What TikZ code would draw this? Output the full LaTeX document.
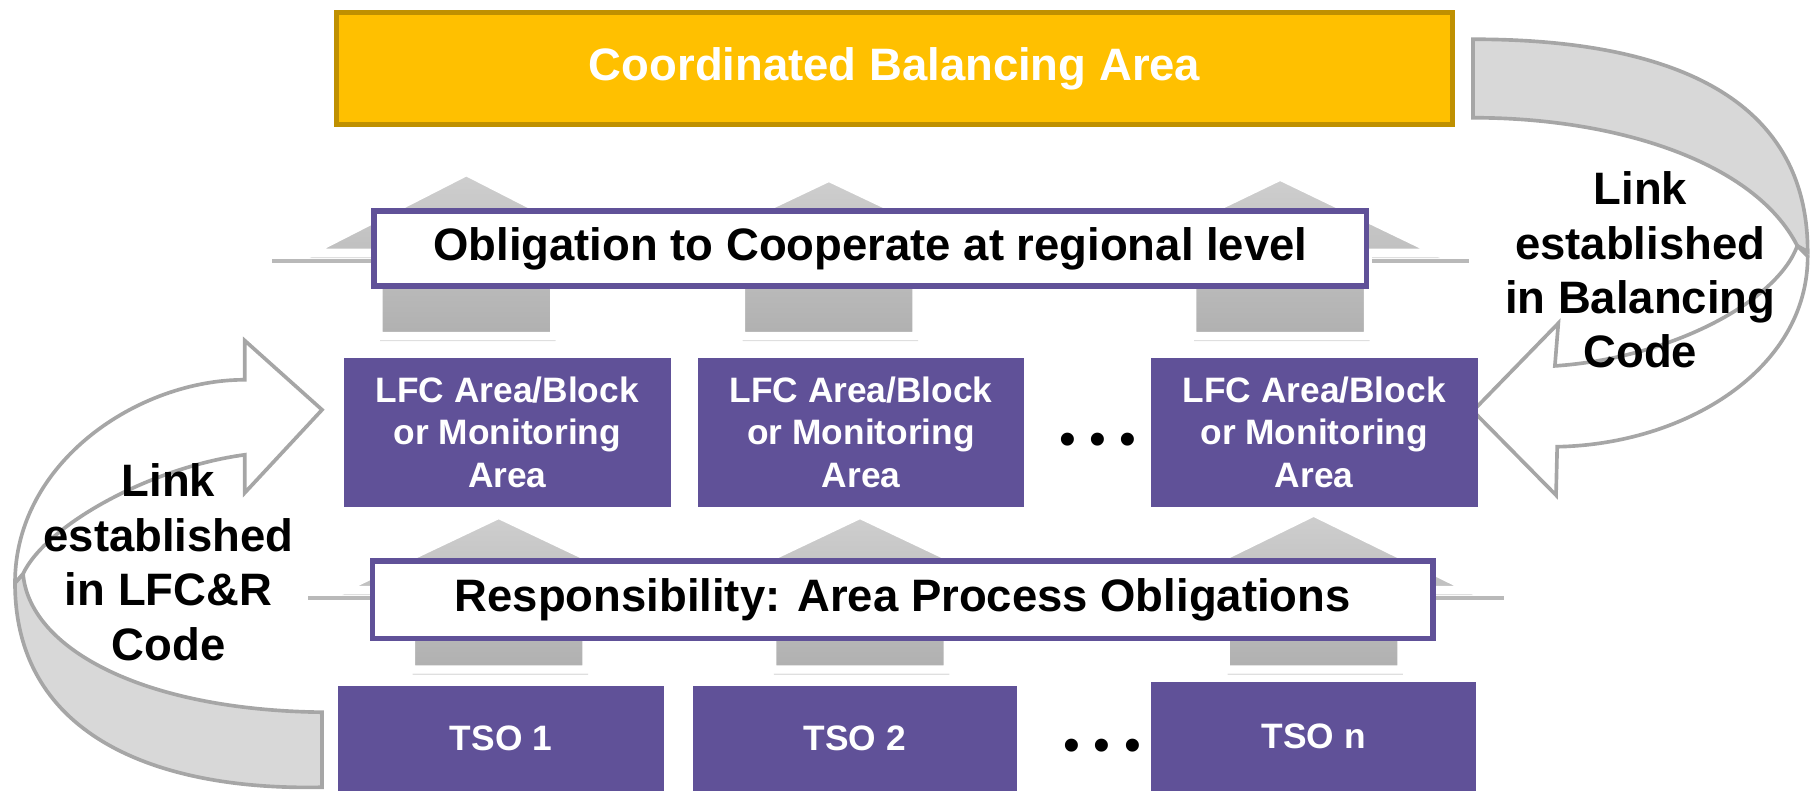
\documentclass[tikz,border=0pt]{standalone}
\usepackage{fontspec}
\setmainfont{Liberation Sans}
\usetikzlibrary{shadows}
\definecolor{cbafill}{RGB}{255,192,0}
\definecolor{cbaline}{RGB}{191,144,0}
\definecolor{tsopurple}{RGB}{96,81,152}
\definecolor{bandgray}{RGB}{216,216,216}
\definecolor{bandline}{RGB}{166,166,166}
\tikzset{topbox/.style = {shape=rectangle, fill=cbafill, draw=cbaline, line width=1.3pt, text=white, inner sep=0pt,
  font=\fontsize{11.2}{13.4}\selectfont\bfseries}}
\tikzset{areabox/.style = {shape=rectangle, fill=tsopurple, text=white, align=center, inner sep=0pt,
  font=\fontsize{8.7}{10.5}\selectfont\bfseries}}
\tikzset{dutybox/.style = {shape=rectangle, draw=tsopurple, line width=1.4pt, fill=white, inner sep=0pt,
  font=\fontsize{11.2}{13.4}\selectfont\bfseries}}
\tikzset{upblock/.style = {top color=gray!38, bottom color=gray!62, draw=white, line width=2pt,
  drop shadow={shadow xshift=0.4pt, shadow yshift=-1.3pt, opacity=0.25}}}
\tikzset{flange/.style = {draw=gray!55, line width=1pt}}
\tikzset{bandback/.style = {fill=bandgray, draw=bandline, line width=0.9pt}}
\tikzset{bandfront/.style = {fill=white, draw=bandline, line width=0.9pt}}
\tikzset{linktext/.style = {align=center, inner sep=0pt, font=\fontsize{11.2}{13.4}\selectfont\bfseries}}
\tikzset{moredots/.style = {inner sep=0pt, font=\fontsize{11.8}{12}\selectfont}}

\begin{document}
\begin{tikzpicture}[x=0.01cm, y=-0.01cm]
  \useasboundingbox (0,0) rectangle (1568,685);

  % twisted bands
  \path[bandback] (1276,34) .. controls (1440,34) and (1566,80) .. (1566,218) -- (1557,213)
    .. controls (1520,140) and (1400,102) .. (1276,102) -- cycle;
  \path[bandfront] (1557,213) .. controls (1540,260) and (1450,310) .. (1347,317) -- (1350,280) -- (1276,356)
    -- (1348,429) -- (1349,387) .. controls (1460,385) and (1566,320) .. (1566,222) -- cycle;
  \path[bandback] (279,617) -- (279,682) .. controls (140,685) and (13,640) .. (13,505) -- (20,497)
    .. controls (25,560) and (120,615) .. (279,617) -- cycle;
  \path[bandfront] (20,497) .. controls (40,455) and (130,405) .. (212,394) -- (212,427) -- (279,355)
    -- (212,295) -- (212,329) .. controls (120,329) and (13,400) .. (13,505) -- cycle;

  % up arrows
  \draw[flange] (236,226) -- (1273,226);
  \draw[flange] (267,518) -- (1303,518);
  \path[upblock] (404,149) -- (541,219) -- (480,219) -- (480,291) -- (328,291) -- (328,219) -- (267,219) -- cycle;
  \path[upblock] (718,154) -- (855,219) -- (794,219) -- (794,291) -- (642,291) -- (642,219) -- (581,219) -- cycle;
  \path[upblock] (1109,153) -- (1246,219) -- (1185,219) -- (1185,291) -- (1033,291) -- (1033,219) -- (972,219) -- cycle;
  \path[upblock] (432,446) -- (569,511) -- (508,511) -- (508,580) -- (356,580) -- (356,511) -- (295,511) -- cycle;
  \path[upblock] (745,446) -- (882,511) -- (821,511) -- (821,580) -- (669,580) -- (669,511) -- (608,511) -- cycle;
  \path[upblock] (1138,444) -- (1275,511) -- (1214,511) -- (1214,580) -- (1062,580) -- (1062,511) -- (1001,511) -- cycle;

  \node[topbox, minimum width=9.66cm, minimum height=0.97cm] (cba) at (775,59.5) {Coordinated Balancing Area};
  \node[dutybox, minimum width=8.59cm, minimum height=0.65cm] (coop) at (754,215.5) {Obligation to Cooperate at regional level};

  \node[areabox, minimum width=2.83cm, minimum height=1.29cm] (lfc1) at (439.5,374.5) {LFC Area/Block\\or Monitoring\\Area};
  \node[areabox, minimum width=2.82cm, minimum height=1.29cm] (lfc2) at (746,374.5) {LFC Area/Block\\or Monitoring\\Area};
  \node[areabox, minimum width=2.83cm, minimum height=1.29cm] (lfcn) at (1138.5,374.5) {LFC Area/Block\\or Monitoring\\Area};
  \node[moredots] (dotsA) at (951,385) {• • •};

  \node[dutybox, minimum width=9.18cm, minimum height=0.67cm] (resp) at (782,519.5) {Responsibility: Area Process Obligations};

  \node[areabox, minimum width=2.82cm, minimum height=0.91cm] (tso1) at (434,639.5) {TSO 1};
  \node[areabox, minimum width=2.81cm, minimum height=0.91cm] (tso2) at (740.5,639.5) {TSO 2};
  \node[areabox, minimum width=2.82cm, minimum height=0.94cm] (tson) at (1138,638) {TSO n};
  \node[moredots] (dotsB) at (955,650) {• • •};

  \node[linktext] (linkR) at (1421,234) {Link\\established\\in Balancing\\Code};
  \node[linktext] (linkL) at (146,487) {Link\\established\\in LFC\&R\\Code};
\end{tikzpicture}
\end{document}
